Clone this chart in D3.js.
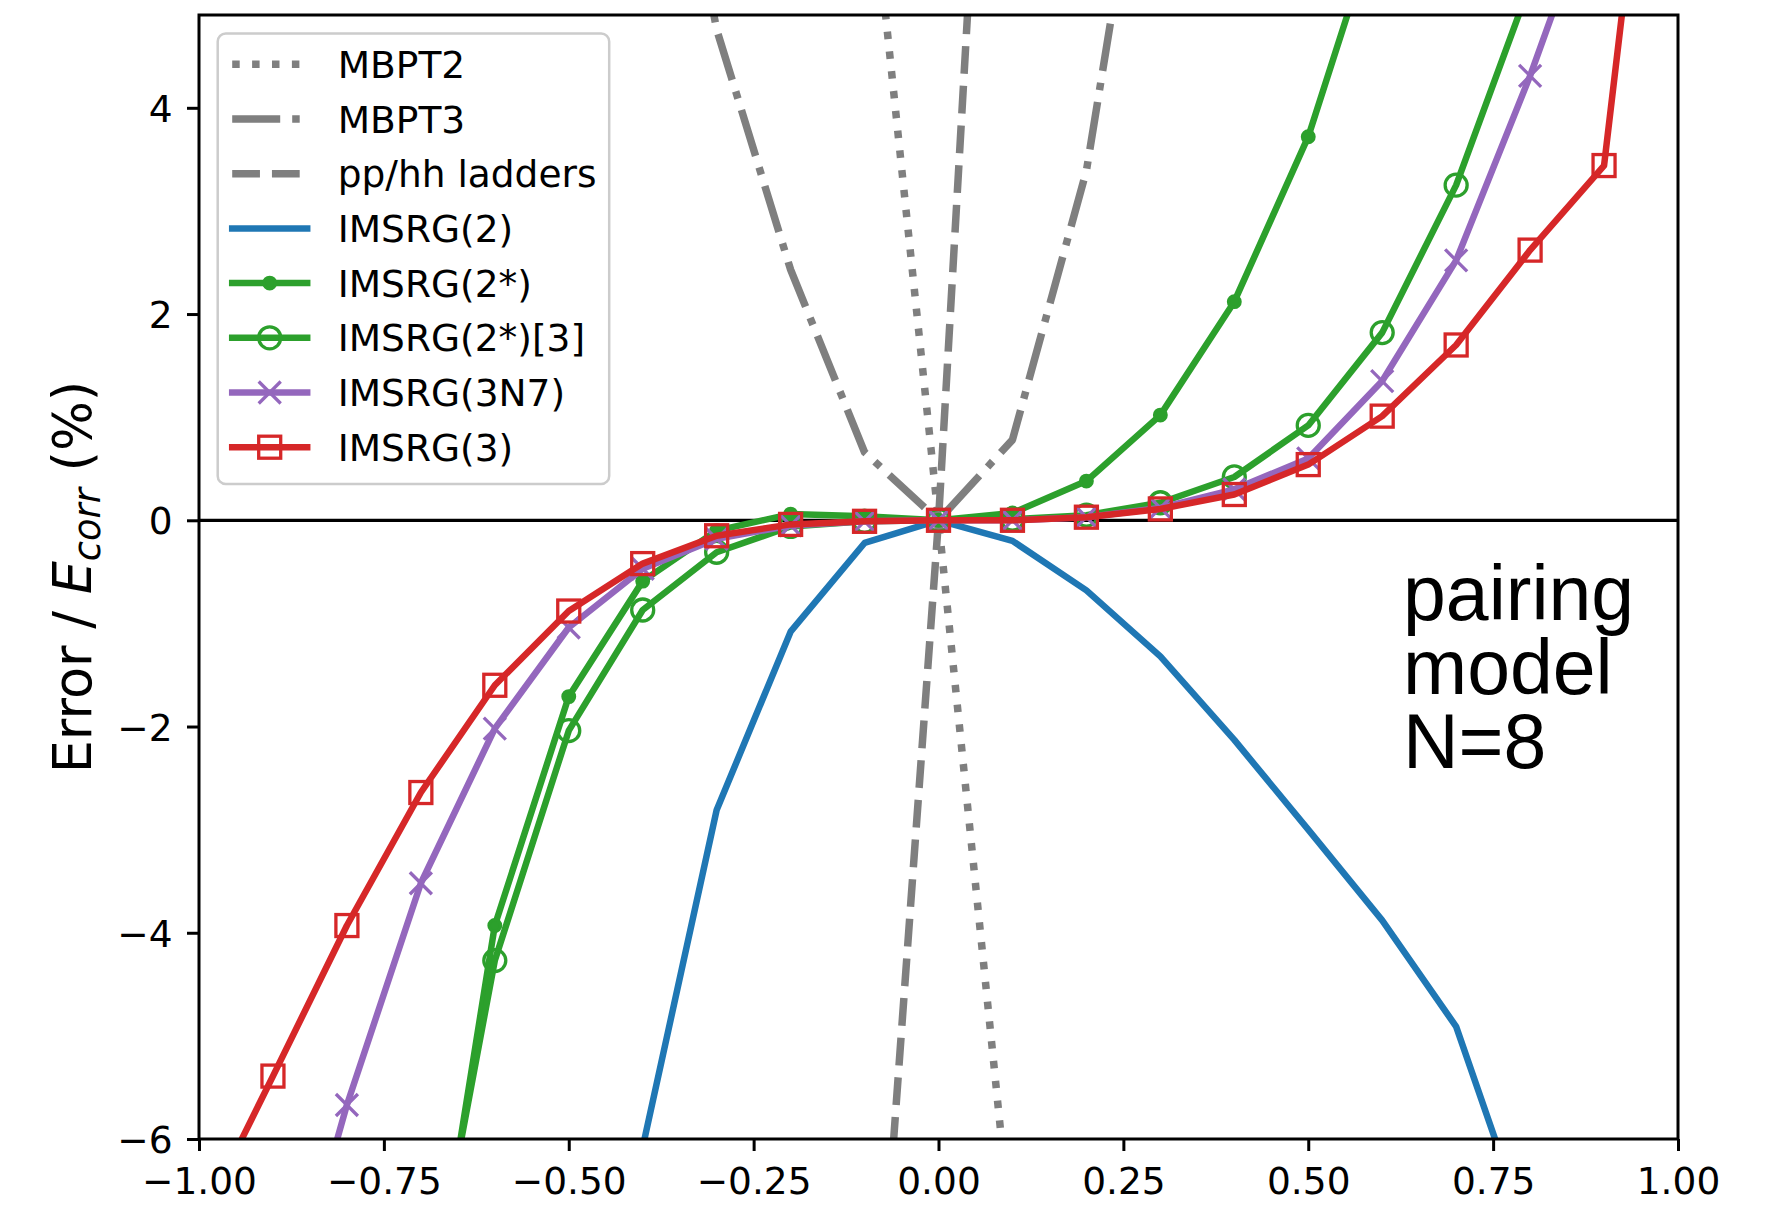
<!DOCTYPE html>
<html>
<head>
<meta charset="utf-8">
<script src="https://cdn.jsdelivr.net/npm/d3@7"></script>
<style>
  html, body { margin: 0; padding: 0; background: #fff; }
  svg { display: block; }
  text { font-family: "DejaVu Sans", sans-serif; fill: #000; }
</style>
</head>
<body>
<div id="chart"></div>
<script>
// coupling strength g (x axis), one value per 0.1 step
const lambdas = [-1.0, -0.9, -0.8, -0.7, -0.6, -0.5, -0.4, -0.3, -0.2, -0.1, 0.0, 0.1, 0.2, 0.3, 0.4, 0.5, 0.6, 0.7, 0.8, 0.9, 1.0];

// relative error in %, null = not plotted
const mbpt2    = [null, null, null, null, null, null, null, null, null, 6.85, 0, -7.05, null, null, null, null, null, null, null, null, null];
const mbpt3    = [null, null, null, null, null, null, 8.5, 4.76, 2.43, 0.66, 0, 0.78, 3.39, 7.8, null, null, null, null, null, null, null];
const ppHH     = [null, null, null, null, null, null, null, null, null, -9.9, 0, 12.5, null, null, null, null, null, null, null, null, null];
const imsrg2   = [null, null, null, null, null, null, -6.08, -2.81, -1.08, -0.22, 0, -0.20, -0.68, -1.32, -2.13, -3.00, -3.88, -4.91, -6.98, null, null];
const imsrg2s  = [null, null, null, -8.4, -3.93, -1.71, -0.59, -0.10, 0.06, 0.04, 0, 0.07, 0.38, 1.02, 2.12, 3.72, 5.95, null, null, null, null];
const imsrg2s3 = [null, null, null, -8.1, -4.27, -2.04, -0.87, -0.31, -0.06, -0.01, 0, 0.01, 0.05, 0.17, 0.42, 0.92, 1.82, 3.25, 5.2, null, null];
const imsrg3n7 = [null, -8.2, -5.67, -3.52, -2.02, -1.04, -0.47, -0.18, -0.05, -0.01, 0, 0.0, 0.03, 0.12, 0.30, 0.60, 1.35, 2.52, 4.31, 6.3, null];
const imsrg3   = [-6.84, -5.39, -3.93, -2.64, -1.60, -0.88, -0.42, -0.15, -0.04, -0.01, 0, 0.0, 0.03, 0.11, 0.25, 0.54, 1.01, 1.70, 2.62, 3.44, 9.5];

const seriesNames = ["MBPT2", "MBPT3", "pp/hh ladders", "IMSRG(2)", "IMSRG(2*)", "IMSRG(2*)[3]", "IMSRG(3N7)", "IMSRG(3)"];
const xTicks = [-1, -0.75, -0.5, -0.25, 0, 0.25, 0.5, 0.75, 1];
const yTicks = [-6, -4, -2, 0, 2, 4];
const annotationLines = ["pairing", "model", "N=8"];

// styles for each series (same order as seriesNames)
const grey = "#7f7f7f";
const series = [
  { values: mbpt2,    color: grey,      width: 7.5, dash: "7.5,12.4",        marker: null },
  { values: mbpt3,    color: grey,      width: 7.5, dash: "48,12,7.5,12",    marker: null },
  { values: ppHH,     color: grey,      width: 7.5, dash: "27.75,12",        marker: null },
  { values: imsrg2,   color: "#1f77b4", width: 6.5, dash: null,              marker: null },
  { values: imsrg2s,  color: "#2ca02c", width: 6.5, dash: null,              marker: "dot" },
  { values: imsrg2s3, color: "#2ca02c", width: 6.5, dash: null,              marker: "circle" },
  { values: imsrg3n7, color: "#9467bd", width: 6.5, dash: null,              marker: "x" },
  { values: imsrg3,   color: "#d62728", width: 6.5, dash: null,              marker: "square" }
].map((s, i) => ({
  ...s,
  name: seriesNames[i],
  points: lambdas.map((g, j) => ({ g, v: s.values[j] })).filter(d => d.v !== null)
}));

const margin = { top: 15, right: 95, bottom: 72, left: 199 };
const width = 1479;
const height = 1124;

const svg = d3.select("#chart")
  .append("svg")
  .attr("width", width + margin.left + margin.right)
  .attr("height", height + margin.top + margin.bottom);

const plot = svg.append("g")
  .attr("transform", `translate(${margin.left}, ${margin.top})`);

const x = d3.scaleLinear().domain([-1, 1]).range([0, width]);
const y = d3.scaleLinear().domain([-6, 4.9]).range([height, 0]);

svg.append("defs").append("clipPath")
  .attr("id", "plot-clip")
  .append("rect")
  .attr("width", width)
  .attr("height", height);

const inner = plot.append("g").attr("clip-path", "url(#plot-clip)");

// zero line
inner.append("line")
  .attr("x1", 0).attr("x2", width)
  .attr("y1", y(0)).attr("y2", y(0))
  .attr("stroke", "#000")
  .attr("stroke-width", 3.2);

const line = d3.line()
  .x(d => x(d.g))
  .y(d => y(d.v));

function drawMarker(g, type, cx, cy, color) {
  if (type === "dot") {
    g.append("circle").attr("cx", cx).attr("cy", cy).attr("r", 5.8)
      .attr("fill", color).attr("stroke", color).attr("stroke-width", 3.3);
  } else if (type === "circle") {
    g.append("circle").attr("cx", cx).attr("cy", cy).attr("r", 11)
      .attr("fill", "none").attr("stroke", color).attr("stroke-width", 3.3);
  } else if (type === "square") {
    g.append("rect").attr("x", cx - 11).attr("y", cy - 11)
      .attr("width", 22).attr("height", 22)
      .attr("fill", "none").attr("stroke", color).attr("stroke-width", 3.3);
  } else if (type === "x") {
    const h = 11;
    g.append("path")
      .attr("d", `M${cx - h},${cy - h}L${cx + h},${cy + h}M${cx - h},${cy + h}L${cx + h},${cy - h}`)
      .attr("stroke", color).attr("stroke-width", 3.3).attr("fill", "none");
  }
}

series.forEach(s => {
  const grp = inner.append("g");
  grp.append("path")
    .datum(s.points)
    .attr("d", line)
    .attr("fill", "none")
    .attr("stroke", s.color)
    .attr("stroke-width", s.width)
    .attr("stroke-linejoin", "round")
    .attr("stroke-linecap", s.dash ? "butt" : "square")
    .attr("stroke-dasharray", s.dash);
  if (s.marker) {
    s.points.forEach(d => drawMarker(grp, s.marker, x(d.g), y(d.v), s.color));
  }
});

// axes
const xAxis = plot.append("g")
  .attr("transform", `translate(0, ${height})`)
  .call(d3.axisBottom(x).tickValues(xTicks).tickFormat(d3.format(".2f")).tickSize(12).tickPadding(16));

const yAxis = plot.append("g")
  .call(d3.axisLeft(y).tickValues(yTicks).tickFormat(d3.format("d")).tickSize(12).tickPadding(14.5));

[xAxis, yAxis].forEach(a => {
  a.select(".domain").remove();
  a.selectAll(".tick line").attr("stroke", "#000").attr("stroke-width", 3);
  a.selectAll(".tick text")
    .style("font-family", "DejaVu Sans")
    .style("font-size", "37.5px")
    .attr("fill", "#000");
});
yAxis.selectAll(".tick text").attr("dy", "0.36em");

// frame
plot.append("rect")
  .attr("width", width)
  .attr("height", height)
  .attr("fill", "none")
  .attr("stroke", "#000")
  .attr("stroke-width", 3);

// y label
const yLabel = svg.append("text")
  .attr("transform", `translate(91, ${margin.top + height / 2}) rotate(-90)`)
  .attr("text-anchor", "middle")
  .style("font-size", "52.5px");
yLabel.append("tspan").text("Error / ");
yLabel.append("tspan").style("font-style", "italic").text("E");
yLabel.append("tspan").style("font-style", "italic").style("font-size", "36.75px").attr("dy", 9).text("corr");
yLabel.append("tspan").attr("dy", -9).text(" (%)");

// legend
const legend = svg.append("g").attr("transform", "translate(217.7, 33.5)");
legend.append("rect")
  .attr("width", 391.5)
  .attr("height", 450.5)
  .attr("rx", 8)
  .attr("fill", "#fff")
  .attr("fill-opacity", 0.8)
  .attr("stroke", "#cccccc")
  .attr("stroke-width", 2.5);

series.forEach((s, i) => {
  const rowY = 30.8 + i * 54.7;
  const row = legend.append("g");
  row.append("line")
    .attr("x1", 14.5).attr("x2", 89.5)
    .attr("y1", rowY).attr("y2", rowY)
    .attr("stroke", s.color)
    .attr("stroke-width", s.width)
    .attr("stroke-linecap", s.dash ? "butt" : "square")
    .attr("stroke-dasharray", s.dash);
  if (s.marker) drawMarker(row, s.marker, 52, rowY, s.color);
  row.append("text")
    .attr("x", 120)
    .attr("y", rowY)
    .attr("dy", "0.36em")
    .style("font-size", "37.5px")
    .text(s.name);
});

// annotation
const note = svg.append("text")
  .attr("x", 1403)
  .attr("y", 620)
  .style("font-family", "'Liberation Sans', Arial, sans-serif")
  .style("font-size", "77px");
annotationLines.forEach((t, i) => {
  note.append("tspan")
    .attr("x", 1403)
    .attr("dy", i === 0 ? 0 : 74)
    .text(t);
});
</script>
</body>
</html>
